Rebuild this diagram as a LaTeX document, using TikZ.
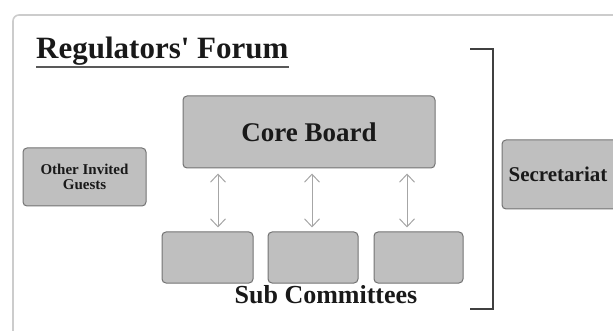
\documentclass[tikz,border=0pt]{standalone}
\usepackage{fontspec}
\setmainfont{Liberation Serif}
\usetikzlibrary{arrows.meta}

\begin{document}
\begin{tikzpicture}[x=1pt,y=-1pt,>={Straight Barb[length=8pt,width=15pt]}]
    \tikzstyle{every node}=[font=\bfseries,text=black!90]
    \tikzstyle{box}=[draw=black!55,fill=black!25,line width=1pt,rounded corners=4pt,inner sep=0pt]
    \tikzstyle{link}=[<->,draw=black!35,line width=1pt]

    \useasboundingbox (0,0) rectangle (613,331);
    \clip (0,0) rectangle (613,331);

    \draw[draw=black!20,line width=1.6pt,rounded corners=6pt] (13,345) -- (13,15) -- (625,15);

    \node[anchor=base west,inner sep=0pt,font=\fontsize{31}{33}\selectfont\bfseries] (title) at (36,59) {Regulators\textquotesingle{} Forum};
    \draw[draw=black!65,line width=2.5pt] ([yshift=-8pt]title.base west) -- ([yshift=-8pt]title.base east);

    \draw[draw=black!75,line width=2pt] (470,49) -- (493,49) -- (493,309) -- (470,309);

    \node[box,minimum width=252pt,minimum height=72pt,font=\fontsize{27}{29}\selectfont\bfseries] (core) at (309,132) {Core Board};

    \node[box,minimum width=123pt,minimum height=58pt,align=center,font=\fontsize{15}{15}\selectfont\bfseries] (guests) at (84.5,177) {Other Invited\\Guests};

    \node[box,minimum width=118pt,minimum height=69pt,font=\fontsize{21}{23}\selectfont\bfseries] (secretariat) at (561,174.5) {\hspace*{-6pt}Secretariat};

    \node[box,minimum width=91pt,minimum height=51pt] (sub1) at (207.5,257.5) {};
    \node[box,minimum width=90pt,minimum height=51pt] (sub2) at (313,257.5) {};
    \node[box,minimum width=89pt,minimum height=51pt] (sub3) at (418.5,257.5) {};

    \node[font=\fontsize{26}{28}\selectfont\bfseries] (subs) at (326,295) {Sub Committees};

    \draw[link] ([xshift=10.5pt,yshift=4pt]sub1.north) -- ([xshift=10.5pt,yshift=-5pt]sub1.north |- core.south);
    \draw[link] ([xshift=-1pt,yshift=4pt]sub2.north) -- ([xshift=-1pt,yshift=-5pt]sub2.north |- core.south);
    \draw[link] ([xshift=-11.5pt,yshift=4pt]sub3.north) -- ([xshift=-11.5pt,yshift=-5pt]sub3.north |- core.south);
\end{tikzpicture}
\end{document}
